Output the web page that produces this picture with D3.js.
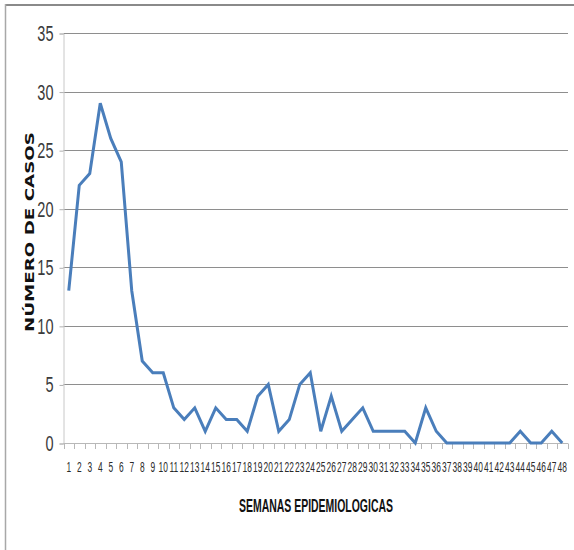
<!DOCTYPE html>
<html>
<head>
<meta charset="utf-8">
<script src="https://cdn.jsdelivr.net/npm/d3@7"></script>
<style>
  html, body { margin: 0; padding: 0; background: #ffffff; }
  svg { display: block; }
</style>
</head>
<body>
<svg id="chart" width="574" height="550"></svg>
<script>
const weeks = d3.range(1, 49).map(String);
const cases = [13, 22, 23, 29, 26, 24, 13, 7, 6, 6, 3, 2, 3, 1, 3, 2, 2, 1, 4, 5,
               1, 2, 5, 6, 1, 4, 1, 2, 3, 1, 1, 1, 1, 0, 3, 1, 0, 0, 0, 0,
               0, 0, 0, 1, 0, 0, 1, 0];
const yTicks = [0, 5, 10, 15, 20, 25, 30, 35];
const yTitle = "NÚMERO DE CASOS";
const xTitle = "SEMANAS EPIDEMIOLOGICAS";

const svg = d3.select("#chart");
const baseFont = "'Liberation Sans', Arial, sans-serif";

// outer frame
svg.append("line").attr("x1", 5).attr("x2", 574).attr("y1", 5).attr("y2", 5)
  .attr("stroke", "#8a8a8a").attr("stroke-width", 2);
svg.append("line").attr("x1", 5.5).attr("x2", 5.5).attr("y1", 4).attr("y2", 550)
  .attr("stroke", "#a8a8a8").attr("stroke-width", 1.5);

const x = d3.scaleBand().domain(weeks).range([63.5, 567.5]).padding(0);
const y = d3.scaleLinear().domain([0, 35]).range([443, 33]);

// gridlines
svg.append("g").selectAll("line").data(yTicks).join("line")
  .attr("x1", 63.5).attr("x2", 568)
  .attr("y1", d => Math.round(y(d)) + 0.5).attr("y2", d => Math.round(y(d)) + 0.5)
  .attr("stroke", d => d === 0 ? "#b8b8b8" : "#8e8e8e").attr("stroke-width", 1);

// y axis
const ySx = 0.66;
const yAxis = svg.append("g").attr("transform", "translate(63.5,0.5)")
  .call(d3.axisLeft(y).tickValues(yTicks).tickSize(4).tickPadding(6));
yAxis.select(".domain").attr("stroke", "#c8c8c8");
yAxis.selectAll(".tick line").attr("stroke", "#b0b0b0");
yAxis.selectAll(".tick text")
  .attr("font-family", baseFont)
  .attr("font-size", 22).attr("fill", "#3a3a3a")
  .attr("x", -10 / ySx)
  .attr("transform", `scale(${ySx},1)`);

// x axis: labels
const xSx = 0.6;
const xAxis = svg.append("g").attr("transform", "translate(0,443.5)")
  .call(d3.axisBottom(x).tickSize(0).tickPadding(19));
xAxis.select(".domain").remove();
xAxis.selectAll(".tick text")
  .attr("font-family", baseFont)
  .attr("font-size", 14).attr("fill", "#2a2a2a")
  .attr("transform", `scale(${xSx},1)`);

// x axis line and tick marks at category boundaries
svg.append("line").attr("x1", 63.5).attr("x2", 567.5).attr("y1", 443.5).attr("y2", 443.5)
  .attr("stroke", "#b8b8b8");
const bounds = weeks.map(w => x(w)).concat([x.range()[1]]);
svg.append("g").selectAll("line").data(bounds).join("line")
  .attr("x1", d => Math.round(d) + 0.5).attr("x2", d => Math.round(d) + 0.5)
  .attr("y1", 443.5).attr("y2", 449)
  .attr("stroke", "#b8b8b8");

// data line
const line = d3.line()
  .x((d, i) => x(weeks[i]) + x.bandwidth() / 2)
  .y(d => y(d));
svg.append("path").datum(cases)
  .attr("d", line)
  .attr("fill", "none")
  .attr("stroke", "#4a7ebb")
  .attr("stroke-width", 3)
  .attr("stroke-linejoin", "miter")
  .attr("stroke-linecap", "butt");

// axis titles
svg.append("text")
  .attr("transform", "translate(33.5,232) rotate(-90)")
  .attr("text-anchor", "middle")
  .attr("font-family", "'DejaVu Sans', sans-serif")
  .attr("font-weight", "bold")
  .attr("font-size", 11.5)
  .attr("fill", "#111")
  .attr("textLength", 200).attr("lengthAdjust", "spacingAndGlyphs")
  .text(yTitle);

svg.append("text")
  .attr("x", 316).attr("y", 512)
  .attr("text-anchor", "middle")
  .attr("font-family", baseFont)
  .attr("font-weight", "bold")
  .attr("font-size", 19)
  .attr("fill", "#111")
  .attr("textLength", 154).attr("lengthAdjust", "spacingAndGlyphs")
  .text(xTitle);
</script>
</body>
</html>
